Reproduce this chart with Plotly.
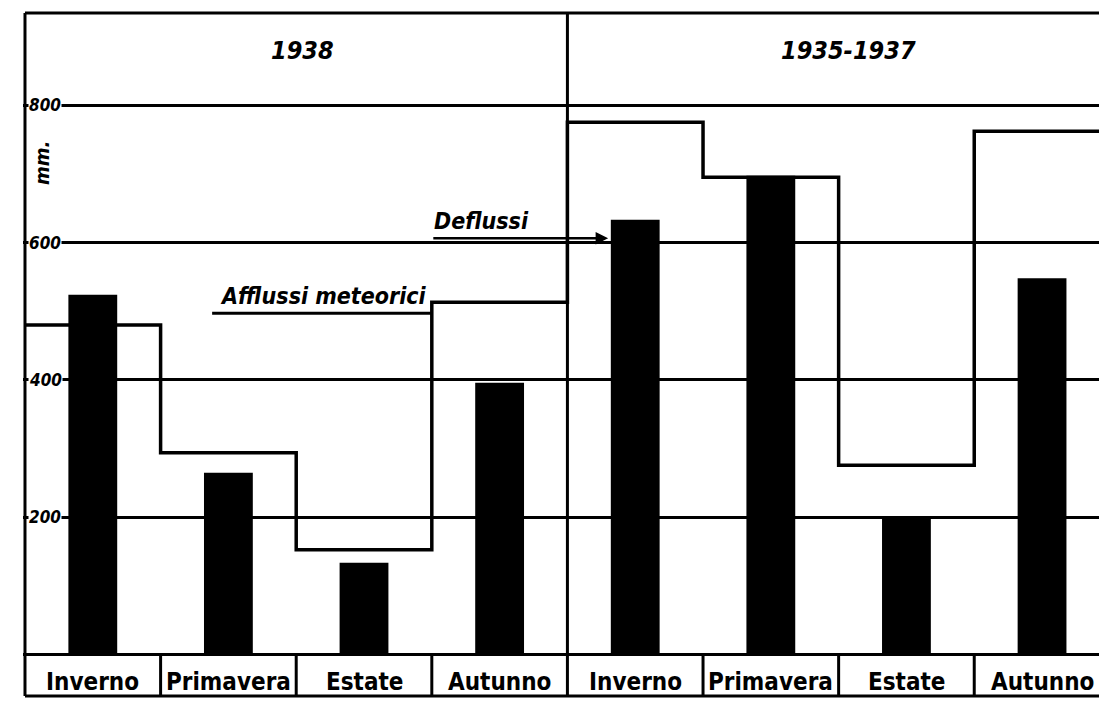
import plotly.graph_objects as go

# ---- data ----
seasons = ["Inverno", "Primavera", "Estate", "Autunno",
           "Inverno", "Primavera", "Estate", "Autunno"]
periods = ["1938", "1935-1937"]
deflussi = [524, 265, 134, 396, 633, 697, 200, 548]      # bars
afflussi = [480, 294, 153, 513, 775, 695, 276, 762]      # step line
y_ticks = [200, 400, 600, 800]
y_unit = "mm."

n = len(seasons)
xpos = list(range(n))
step_x = [i - 0.5 for i in range(n + 1)]
step_y = afflussi + [afflussi[-1]]

XR = [-0.5147, 7.42]
YR = [-68.4, 941.1]
Y_TOP = 933.8
Y_BOT = -59.6

fig = go.Figure()
fig.add_trace(go.Scatter(x=step_x, y=step_y, mode="lines",
                         line=dict(color="black", width=3.5, shape="hv"),
                         xaxis="x", yaxis="y", showlegend=False, hoverinfo="skip"))
fig.add_trace(go.Bar(x=xpos, y=deflussi, width=0.36,
                     marker=dict(color="black", line=dict(width=0)),
                     xaxis="x2", yaxis="y2", showlegend=False))

LC = "black"
shapes = []
def line(x0, y0, x1, y1, w=3):
    shapes.append(dict(type="line", xref="x", yref="y", x0=x0, y0=y0, x1=x1, y1=y1,
                       line=dict(color=LC, width=w), layer="above"))

line(-0.5, Y_BOT, -0.5, Y_TOP)          # left frame
line(-0.5, Y_TOP, XR[1], Y_TOP)         # top frame
line(3.5, Y_BOT, 3.5, Y_TOP)            # period divider
line(-0.5, Y_BOT, XR[1], Y_BOT)         # bottom of label boxes
for b in [0.5, 1.5, 2.5, 4.5, 5.5, 6.5]:
    line(b, Y_BOT, b, 0)
# leader underline for "Afflussi meteorici"
line(0.88, 497, 2.5, 497, 3)

annotations = []
BI = "DejaVu Sans Condensed"
for t in y_ticks:
    annotations.append(dict(x=-0.5 + 3 / 135.6, y=t, xref="x", yref="y", text=f"<b><i>{t}</i></b>",
                            showarrow=False, xanchor="left", yanchor="middle",
                            bgcolor="white", borderpad=0,
                            font=dict(family=BI, size=17, color="black")))
annotations.append(dict(x=-0.37, y=715, xref="x", yref="y", text=f"<b><i>{y_unit}</i></b>", textangle=-90,
                        showarrow=False, font=dict(family=BI, size=20, color="black")))
for i, p in enumerate(periods):
    annotations.append(dict(x=1.55 + 4.02 * i, y=880, xref="x", yref="y", text=f"<b><i>{p}</i></b>",
                            showarrow=False, font=dict(family=BI, size=25, color="black")))
for i, s in enumerate(seasons):
    annotations.append(dict(x=i, y=-40, xref="x", yref="y", text=f"<b>{s}</b>",
                            showarrow=False, yanchor="middle",
                            font=dict(family="DejaVu Sans Condensed", size=24, color="black")))
# Deflussi label + arrow
annotations.append(dict(x=2.5, y=610, xref="x", yref="y", text="<b><i>Deflussi</i></b>",
                        showarrow=False, xanchor="left", yanchor="bottom",
                        font=dict(family=BI, size=23, color="black")))
annotations.append(dict(x=3.8, y=606, ax=2.5, ay=606, xref="x", yref="y", axref="x", ayref="y",
                        text="", showarrow=True, arrowhead=2, arrowsize=1, arrowwidth=2.5,
                        arrowcolor="black"))
annotations.append(dict(x=2.48, y=500, xref="x", yref="y", text="<b><i>Afflussi meteorici</i></b>",
                        showarrow=False, xanchor="right", yanchor="bottom",
                        font=dict(family=BI, size=23, color="black")))

fig.update_layout(
    width=1099, height=702,
    margin=dict(l=23, r=0, t=8, b=0),
    paper_bgcolor="white", plot_bgcolor="white",
    showlegend=False,
    xaxis=dict(range=XR, showgrid=False, zeroline=False, showticklabels=False, ticks="", showline=False),
    yaxis=dict(range=YR, tickvals=[0] + y_ticks, showgrid=True, gridcolor="black", gridwidth=2.5,
               zeroline=False, showticklabels=False, ticks="", showline=False),
    xaxis2=dict(range=XR, overlaying="x", anchor="y2", visible=False),
    yaxis2=dict(range=YR, overlaying="y", anchor="x2", visible=False),
    shapes=shapes, annotations=annotations,
)

fig.write_html("out.html", config={"displayModeBar": False},
               post_script="document.body.style.margin='0';document.body.style.overflow='hidden';")
